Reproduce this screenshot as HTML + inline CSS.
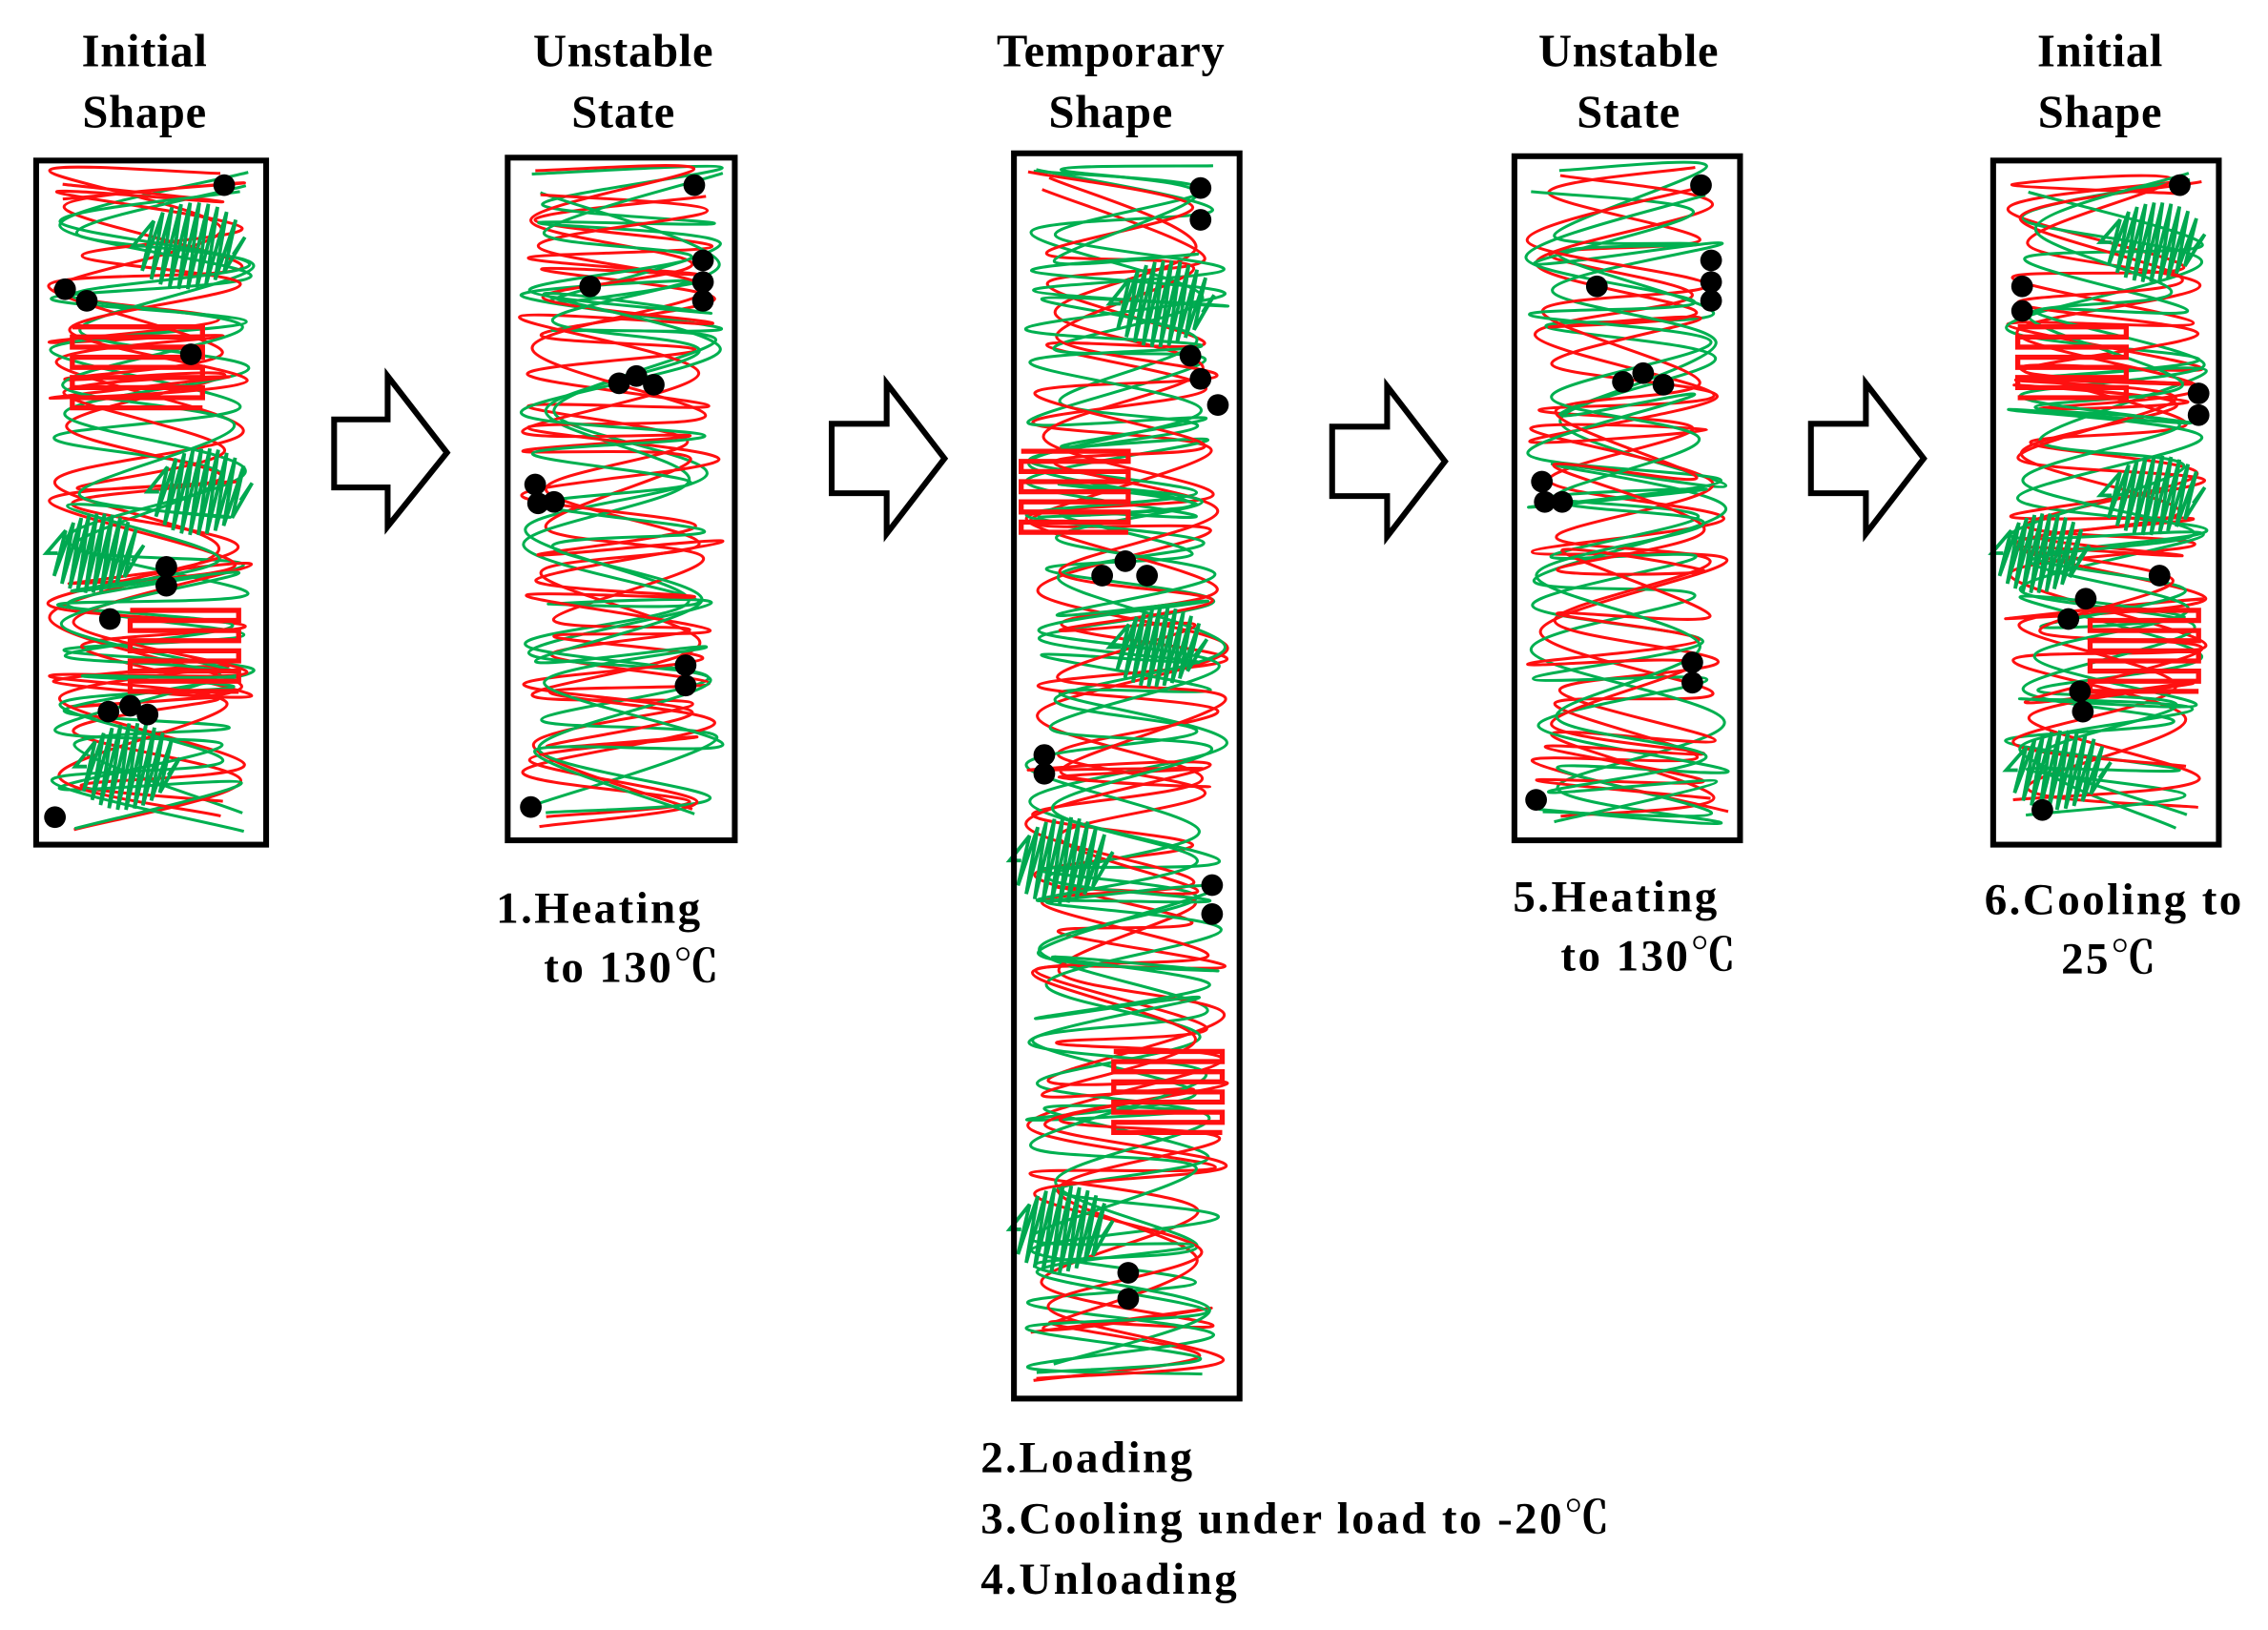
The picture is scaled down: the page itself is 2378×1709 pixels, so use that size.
<!DOCTYPE html>
<html><head><meta charset="utf-8"><style>
html,body{margin:0;padding:0;background:#fff;}
svg{display:block;}
text{font-family:"Liberation Serif","Noto Serif CJK SC",serif;fill:#000;}
.t{font-size:32px;font-weight:bold;text-anchor:middle;letter-spacing:0.5px;}
.l{font-size:31px;font-weight:bold;letter-spacing:1.6px;}
</style></head><body>
<svg id="s" width="2378" height="1709" viewBox="0 0 1568 1127" preserveAspectRatio="none" xmlns="http://www.w3.org/2000/svg">
<g id="content"></g>
<g id="boxes" fill="none" stroke="#000" stroke-width="4">
<rect x="25" y="111" width="159" height="473"/>
<rect x="351" y="109" width="157" height="472"/>
<rect x="701" y="106" width="156" height="861"/>
<rect x="1047" y="108" width="156" height="473"/>
<rect x="1378" y="111" width="156" height="473"/>
</g>
<g fill="#fff" stroke="#000" stroke-width="4" stroke-linejoin="miter">
<path d="M231,290 H268 V260 L309,313 L268,364 V337 H231 Z"/>
<path d="M575,293 H613 V265 L653,317 L613,369 V341 H575 Z"/>
<path d="M921,295 H959 V267 L999,319 L959,371 V343 H921 Z"/>
<path d="M1252,293 H1290 V265 L1330,317 L1290,369 V341 H1252 Z"/>
</g>
<text class="t" x="100" y="46">Initial</text><text class="t" x="100" y="88">Shape</text>
<text class="t" x="431" y="46">Unstable</text><text class="t" x="431" y="88">State</text>
<text class="t" x="768" y="46">Temporary</text><text class="t" x="768" y="88">Shape</text>
<text class="t" x="1126" y="46">Unstable</text><text class="t" x="1126" y="88">State</text>
<text class="t" x="1452" y="46">Initial</text><text class="t" x="1452" y="88">Shape</text>
<text class="l" x="343" y="638">1.Heating</text><text class="l" x="376" y="679">to 130℃</text>
<text class="l" x="1046" y="630">5.Heating</text><text class="l" x="1079" y="671">to 130℃</text>
<text class="l" x="1372" y="632">6.Cooling to</text><text class="l" x="1425" y="673">25℃</text>
<text class="l" x="678" y="1018">2.Loading</text>
<text class="l" x="678" y="1060">3.Cooling under load to -20℃</text>
<text class="l" x="678" y="1102">4.Unloading</text>
</svg>
<script>
(function(){
var seed=12345;function r(){seed=(seed*16807)%2147483647;return (seed-1)/2147483646;}
var NS="http://www.w3.org/2000/svg",g=document.getElementById("content");
function el(n,a){var e=document.createElementNS(NS,n);for(var k in a)e.setAttribute(k,a[k]);g.appendChild(e);return e;}
function smooth(p){var d="M"+p[0][0].toFixed(1)+","+p[0][1].toFixed(1);
for(var i=0;i<p.length-1;i++){var p0=p[i-1]||p[i],p1=p[i],p2=p[i+1],p3=p[i+2]||p2;
d+=" C"+(p1[0]+(p2[0]-p0[0])/6).toFixed(1)+","+(p1[1]+(p2[1]-p0[1])/6).toFixed(1)+" "+(p2[0]-(p3[0]-p1[0])/6).toFixed(1)+","+(p2[1]-(p3[1]-p1[1])/6).toFixed(1)+" "+p2[0].toFixed(1)+","+p2[1].toFixed(1);}
return d;}
function squiggles(x0,y0,x1,y1,n){
for(var k=0;k<n;k++){var col=k%2?"#00b050":"#ff1010";var pts=[];var y=y0+5+r()*20;var side=r()<0.5;
while(y<y1-5){var x=side?x0+6+r()*25:x1-6-r()*25;side=!side;pts.push([x,y]);y+=10+r()*40-(r()<0.3?25:0);if(y<y0+5)y=y0+5;}
el("path",{d:smooth(pts),fill:"none",stroke:col,"stroke-width":2,"stroke-linejoin":"round"});}}
function coil(x0,y0,x1,y1){var d="",n=Math.floor((y1-y0)/7);
for(var i=0;i<=n;i++){var y=y0+i*7;d+=(i?" L":"M")+(i%2?x1:x0)+","+y+" L"+(i%2?x0:x1)+","+y;}
el("path",{d:d,fill:"none",stroke:"#ff1010","stroke-width":3.5});}
function hatch(x0,y0,x1,y1){var d="",w=x1-x0,h=y1-y0,cx=(x0+x1)/2,cy=(y0+y1)/2;
for(var t=0;t<=1;t+=0.09){var x=x0+t*w;var hh=Math.sqrt(Math.max(0,1-Math.pow((x-cx)/(w/2),2)))*h/2;
d+=(t?" L":"M")+x.toFixed(1)+","+(cy-hh).toFixed(1)+" L"+(x-8).toFixed(1)+","+(cy+hh).toFixed(1);}
el("path",{d:d,fill:"none",stroke:"#00a850","stroke-width":2.5});}
function dots(a){a.forEach(function(p){el("circle",{cx:p[0],cy:p[1],r:7.5,fill:"#000"});});}
squiggles(27,113,182,582,6);
coil(50,226,140,284);coil(90,422,165,480);
hatch(100,140,170,200);hatch(110,310,175,370);hatch(40,355,100,410);hatch(60,500,125,560);
dots([[155,128],[45,200],[60,208],[132,245],[115,392],[115,405],[76,428],[75,492],[90,488],[102,494],[38,565]]);
squiggles(353,111,506,579,6);
dots([[480,128],[408,198],[486,180],[486,195],[486,208],[428,265],[440,260],[452,266],[370,335],[372,348],[383,347],[474,460],[474,474],[367,558]]);
squiggles(703,108,855,965,6);
coil(706,312,780,368);coil(770,727,845,785);
hatch(775,180,840,240);hatch(775,420,835,475);hatch(706,565,770,625);hatch(706,820,770,880);
dots([[830,130],[830,152],[823,246],[830,262],[842,280],[762,398],[778,388],[793,398],[722,522],[722,535],[838,612],[838,632],[780,880],[780,898]]);
squiggles(1049,110,1201,579,6);
dots([[1176,128],[1183,180],[1183,195],[1183,208],[1104,198],[1122,264],[1136,258],[1150,266],[1066,333],[1068,347],[1080,347],[1170,458],[1170,472],[1062,553]]);
squiggles(1380,113,1532,582,6);
coil(1395,226,1470,280);coil(1445,422,1520,480);
hatch(1460,140,1525,195);hatch(1460,315,1525,370);hatch(1385,355,1445,410);hatch(1395,505,1460,560);
dots([[1507,128],[1398,198],[1398,215],[1520,272],[1520,287],[1493,398],[1442,414],[1430,428],[1438,478],[1440,492],[1412,560]]);
})();
</script>
</body></html>
